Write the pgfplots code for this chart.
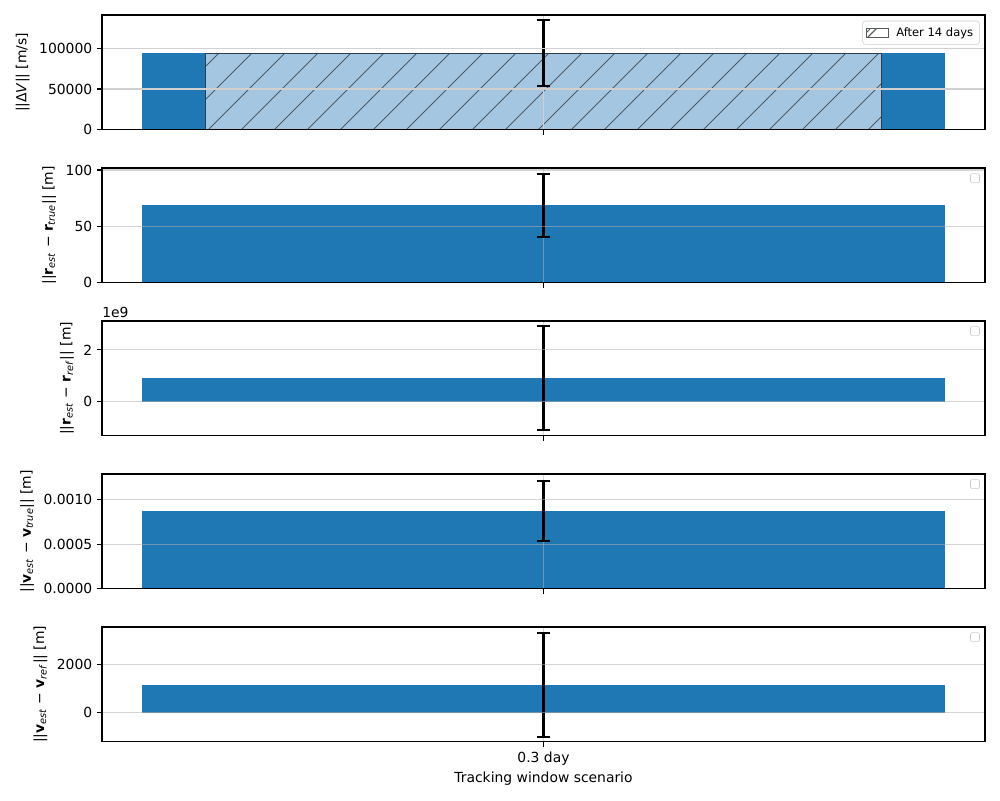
\documentclass[border=0pt]{standalone}
\usepackage{fontspec}
\setmainfont{DejaVu Sans}
\usepackage{pgfplots}
\pgfplotsset{compat=1.18}
\usetikzlibrary{patterns,patterns.meta}
\definecolor{tabblue}{HTML}{1F77B4}
\definecolor{hatchfill}{HTML}{A5C6E0}
\definecolor{hatchedge}{HTML}{2B3E50}
\definecolor{gridc}{HTML}{B0B0B0}
\definecolor{gridl}{HTML}{D0D0D0}

\pgfplotsset{
 panel/.style={
  scale only axis, width=635.76pt, height=82.6pt,
  xmin=-0.44, xmax=0.44,
  xtick={0}, xticklabels={},
  xtick pos=bottom, ytick pos=left, tick align=outside,
  major tick length=3.5pt,
  every tick/.style={black, line width=0.8pt},
  axis line style={line width=0.8pt},
  ymajorgrids=true, xmajorgrids=false,
  major grid style={gridc, opacity=0.55, line width=0.8pt},
  axis on top,
  scaled y ticks=false,
  /pgf/number format/assume math mode=true,
  /pgf/number format/fixed,
  /pgf/number format/1000 sep={},
  tick label style={font=\fontsize{10}{12}\selectfont},
  label style={font=\fontsize{10}{12}\selectfont},
  anchor=north west,
 },
 errb/.style={black, mark=none,
  error bars/.cd, y dir=both, y explicit,
  error bar style={black, line width=1.5pt},
  error mark options={black, line width=1.5pt, mark size=4.8pt, rotate=90}},
}

\begin{document}
\begin{tikzpicture}
\path[use as bounding box] (-73.44pt,-565.2pt) rectangle (646.56pt,10.8pt);

% Panel 1
\begin{axis}[panel, at={(0,0)},
  major grid style={gridl, opacity=1, line width=0.8pt},
  ymin=0, ymax=140700, ytick={0,50000,100000},
  ylabel={||Δ\textit{V}|| [m/s]},
  legend style={at={(0.994,0.95)}, anchor=north east, draw=black!20, rounded corners=2pt,
    font=\fontsize{8.3}{10}\selectfont, inner sep=2.5pt, row sep=0pt},
  legend cell align=left]
\addplot[ybar, bar width=0.8, bar shift=0, fill=tabblue, draw=none, forget plot] coordinates {(0,93800)};
\addplot[ybar, bar width=0.674, bar shift=0, fill=hatchfill, draw=hatchedge, line width=0.8pt,
  postaction={pattern={Lines[angle=45,distance=16.8pt,line width=0.7pt]}, pattern color=hatchedge!85},
  legend image code/.code={\draw[sharp corners, draw=black!65, fill=white, line width=0.6pt] (0pt,-3.2pt) rectangle (16pt,3.2pt); \draw[sharp corners, black!65, line width=0.6pt] (1pt,-3.2pt) -- (7.4pt,3.2pt); \path (19pt,0pt);}
  ] coordinates {(0,93800)};
\addlegendentry{After 14 days}
\draw[gridl, line width=0.8pt] (rel axis cs:0.5,0) -- (rel axis cs:0.5,1);
\addplot[forget plot, errb] coordinates {(0,93850) +- (0,40750)};
\end{axis}

% Panel 2
\begin{axis}[panel, at={(0,-110.16pt)},
  ymin=0, ymax=101.8, ytick={0,50,100},
  ylabel={||\textbf{r}\textsubscript{\textit{est}} − \textbf{r}\textsubscript{\textit{true}}|| [m]}]
\addplot[ybar, bar width=0.8, bar shift=0, fill=tabblue, draw=none] coordinates {(0,68.6)};
\draw[gridc, opacity=0.55, line width=0.8pt] (rel axis cs:0.5,0) -- (rel axis cs:0.5,1);
\addplot[errb] coordinates {(0,68.3) +- (0,28.1)};
\node[draw=black!20, rounded corners=1pt, minimum size=6.5pt, inner sep=0pt] at (rel axis cs:0.9887,0.912) {};
\end{axis}

% Panel 3
\begin{axis}[panel, at={(0,-220.32pt)},
  ymin=-1.31, ymax=3.115, ytick={0,2},
  title={1e9}, title style={at={(0,1)}, anchor=south west, inner sep=0pt, yshift=-3.5pt, font=\fontsize{10}{12}\selectfont},
  ylabel={||\textbf{r}\textsubscript{\textit{est}} − \textbf{r}\textsubscript{\textit{ref}}|| [m]}]
\addplot[ybar, bar width=0.8, bar shift=0, fill=tabblue, draw=none] coordinates {(0,0.92)};
\draw[gridc, opacity=0.55, line width=0.8pt] (rel axis cs:0.5,0) -- (rel axis cs:0.5,1);
\addplot[errb] coordinates {(0,0.92) +- (0,2.0)};
\node[draw=black!20, rounded corners=1pt, minimum size=6.5pt, inner sep=0pt] at (rel axis cs:0.9887,0.912) {};
\end{axis}

% Panel 4
\begin{axis}[panel, at={(0,-330.48pt)},
  ymin=0, ymax=0.001292, ytick={0,0.0005,0.001},
  yticklabel style={/pgf/number format/fixed, /pgf/number format/precision=4, /pgf/number format/fixed zerofill},
  ylabel={||\textbf{v}\textsubscript{\textit{est}} − \textbf{v}\textsubscript{\textit{true}}|| [m]}]
\addplot[ybar, bar width=0.8, bar shift=0, fill=tabblue, draw=none] coordinates {(0,0.000878)};
\draw[gridc, opacity=0.55, line width=0.8pt] (rel axis cs:0.5,0) -- (rel axis cs:0.5,1);
\addplot[errb] coordinates {(0,0.000876) +- (0,0.000337)};
\node[draw=black!20, rounded corners=1pt, minimum size=6.5pt, inner sep=0pt] at (rel axis cs:0.9887,0.912) {};
\end{axis}

% Panel 5
\begin{axis}[panel, at={(0,-440.64pt)},
  ymin=-1208, ymax=3583, ytick={0,2000},
  xticklabels={0.3 day},
  xlabel={Tracking window scenario},
  xlabel style={yshift=2pt},
  ylabel={||\textbf{v}\textsubscript{\textit{est}} − \textbf{v}\textsubscript{\textit{ref}}|| [m]}]
\addplot[ybar, bar width=0.8, bar shift=0, fill=tabblue, draw=none] coordinates {(0,1167)};
\draw[gridc, opacity=0.55, line width=0.8pt] (rel axis cs:0.5,0) -- (rel axis cs:0.5,1);
\addplot[errb] coordinates {(0,1167) +- (0,2167)};
\node[draw=black!20, rounded corners=1pt, minimum size=6.5pt, inner sep=0pt] at (rel axis cs:0.9887,0.912) {};
\end{axis}
\end{tikzpicture}
\end{document}
